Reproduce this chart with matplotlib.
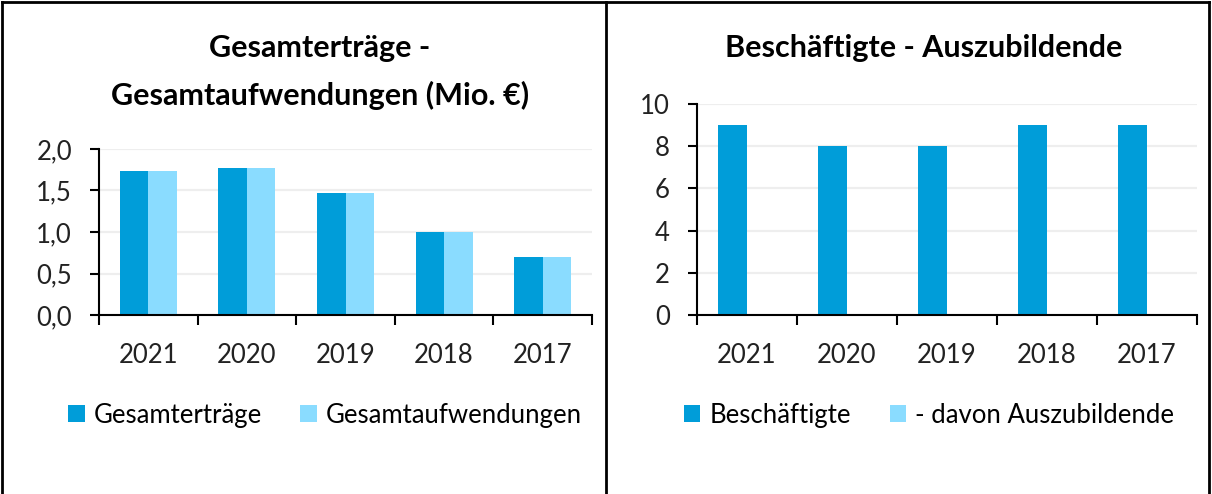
import matplotlib
matplotlib.use("Agg")
import matplotlib.pyplot as plt
from matplotlib.lines import Line2D
from matplotlib.ticker import FuncFormatter
import numpy as np

plt.rcParams['font.family'] = ['Lato', 'DejaVu Sans']

years = ['2021', '2020', '2019', '2018', '2017']
ertraege = [1.74, 1.77, 1.47, 1.00, 0.70]
aufwendungen = [1.74, 1.77, 1.47, 1.00, 0.70]
beschaeftigte = [9, 8, 8, 9, 9]
azubis = [0, 0, 0, 0, 0]

dark = '#009DD9'
light = '#8ADCFF'

W, H = 1212, 494
fig = plt.figure(figsize=(W / 100, H / 100), dpi=100, facecolor='white')


def px_axes(x0, x1, y_top, y_bot):
    return fig.add_axes([x0 / W, 1 - y_bot / H, (x1 - x0) / W, (y_bot - y_top) / H])


def style(ax, ymax, ystep, fmt):
    x = np.arange(len(years))
    ax.set_xlim(-0.5, len(years) - 0.5)
    ax.set_ylim(0, ymax)
    ax.set_yticks(np.arange(0, ymax + ystep / 2, ystep))
    ax.yaxis.set_major_formatter(FuncFormatter(fmt))
    ax.set_xticks(x)
    ax.set_xticklabels(years)
    ax.set_xticks(np.arange(-0.5, len(years)), minor=True)
    ax.tick_params(axis='x', which='major', length=0, pad=20, labelsize=18.5, colors='#222222')
    ax.tick_params(axis='x', which='minor', length=7.5, width=1.5, direction='out')
    ax.tick_params(axis='y', length=6.5, width=1.5, pad=13, labelsize=18.5, colors='#222222')
    ax.tick_params(axis='both', which='both', color='black')
    for s in ['top', 'right']:
        ax.spines[s].set_visible(False)
    ax.spines['left'].set_linewidth(1.5)
    ax.spines['bottom'].set_linewidth(1.5)
    ax.grid(axis='y', color='#EEEEEE', linewidth=1.6)
    ax.set_axisbelow(True)
    return x


bw = 0.29

# left chart
ax1 = px_axes(99, 592, 149, 315)
x = style(ax1, 2.0, 0.5, lambda v, p: f'{v:.1f}'.replace('.', ','))
b1 = ax1.bar(x - bw / 2, ertraege, bw, color=dark, label='Gesamterträge')
b2 = ax1.bar(x + bw / 2, aufwendungen, bw, color=light, label='Gesamtaufwendungen')
fig.text(320 / W, 1 - 48 / H, 'Gesamterträge -', ha='center', va='center',
         fontsize=22, fontweight='bold')
fig.text(320 / W, 1 - 95 / H, 'Gesamtaufwendungen (Mio. €)', ha='center', va='center',
         fontsize=22, fontweight='bold')
fig.legend(handles=[b1, b2], loc='center', bbox_to_anchor=(325 / W, 1 - 415 / H),
           ncol=2, frameon=False, fontsize=18.5, handlelength=0.65, handleheight=0.65,
           handletextpad=0.35, columnspacing=1.5)

# right chart
ax2 = px_axes(697, 1197, 104, 315)
x = style(ax2, 10, 2, lambda v, p: f'{v:.0f}')
b3 = ax2.bar(x - bw / 2, beschaeftigte, bw, color=dark, label='Beschäftigte')
b4 = ax2.bar(x + bw / 2, azubis, bw, color=light, label='- davon Auszubildende')
fig.text(924 / W, 1 - 48 / H, 'Beschäftigte - Auszubildende', ha='center', va='center',
         fontsize=22, fontweight='bold')
fig.legend(handles=[b3, b4], loc='center', bbox_to_anchor=(929 / W, 1 - 415 / H),
           ncol=2, frameon=False, fontsize=18.5, handlelength=0.65, handleheight=0.65,
           handletextpad=0.35, columnspacing=1.5)

# panel frames
frame = dict(color='black', linewidth=2.0, transform=fig.transFigure)
for xs, ys in [([2.5, 1209], [2.5, 2.5]),
               ([2.5, 2.5], [2.5, H]),
               ([606, 606], [2.5, H]),
               ([1209, 1209], [2.5, H])]:
    fig.add_artist(Line2D([v / W for v in xs], [1 - v / H for v in ys], **frame))

fig.savefig('out.png', dpi=100, facecolor='white')
